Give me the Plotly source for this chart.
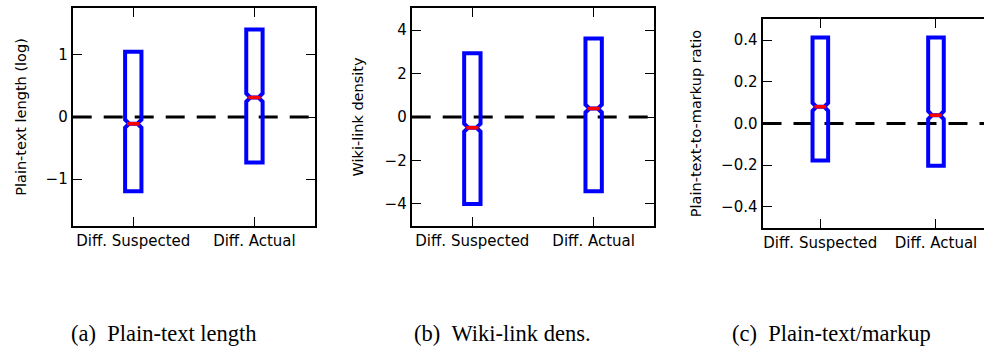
import plotly.graph_objects as go

# ---- data -------------------------------------------------------------
categories = ["Diff. Suspected", "Diff. Actual"]
positions = [1, 2]

length_q1 = [-1.195, -0.732]
length_median = [-0.107, 0.313]
length_q3 = [1.05, 1.41]
length_notch = [0.065, 0.065]

density_q1 = [-4.0, -3.42]
density_median = [-0.49, 0.39]
density_q3 = [2.93, 3.61]
density_notch = [0.18, 0.18]

ratio_q1 = [-0.177, -0.203]
ratio_median = [0.08, 0.04]
ratio_q3 = [0.413, 0.413]
ratio_notch = [0.019, 0.019]

length_ticks = [-1, 0, 1]
length_ticktext = ["\u22121", "0", "1"]
density_ticks = [-4, -2, 0, 2, 4]
density_ticktext = ["\u22124", "\u22122", "0", "2", "4"]
ratio_ticks = [-0.4, -0.2, 0.0, 0.2, 0.4]
ratio_ticktext = ["\u22120.4", "\u22120.2", "0.0", "0.2", "0.4"]

titles = ["Plain-text length (log)", "Wiki-link density", "Plain-text-to-markup ratio"]
captions = ["(a)\u00a0\u00a0Plain-text length", "(b)\u00a0\u00a0Wiki-link dens.", "(c)\u00a0\u00a0Plain-text/markup"]

# ---- style ------------------------------------------------------------
W, H = 984, 349
BOX_W = 0.135
MED_HALF = BOX_W * 0.75 / 2
TICK_FONT = dict(family="DejaVu Sans", size=15, color="black")
TITLE_FONT = dict(family="DejaVu Sans", size=14.5, color="black")

# subplot frames in pixels: (left, right, top, bottom)
frames = [
    (72.7, 315.0, 8.3, 225.7),
    (411.7, 654.3, 8.3, 225.7),
    (762.5, 993.8, 19.3, 227.7),
]
yranges = [[-1.75, 1.75], [-5, 5], [-0.5, 0.5]]
panels = [
    (length_q1, length_median, length_q3, length_notch, length_ticks, length_ticktext),
    (density_q1, density_median, density_q3, density_notch, density_ticks, density_ticktext),
    (ratio_q1, ratio_median, ratio_q3, ratio_notch, ratio_ticks, ratio_ticktext),
]
title_standoff = [16, 18, 16]

fig = go.Figure()
layout = {}

for i, ((q1, med, q3, notch, tv, tt), (l, r, t, b), yr) in enumerate(zip(panels, frames, yranges)):
    n = "" if i == 0 else str(i + 1)
    xa, ya = "x" + n, "y" + n

    fig.add_trace(go.Box(
        x=positions, q1=q1, median=med, q3=q3,
        lowerfence=q1, upperfence=q3,
        notched=True, notchspan=notch, notchwidth=0.25,
        width=BOX_W, whiskerwidth=0,
        line=dict(color="#0000ff", width=4),
        fillcolor="rgba(0,0,0,0)",
        boxpoints=False, hoverinfo="skip",
        xaxis=xa, yaxis=ya, showlegend=False,
    ))
    # red median bars
    for p, m in zip(positions, med):
        fig.add_trace(go.Scatter(
            x=[p - MED_HALF, p + MED_HALF], y=[m, m], mode="lines",
            line=dict(color="#ff0000", width=3.5),
            xaxis=xa, yaxis=ya, showlegend=False, hoverinfo="skip",
        ))
    # dashed zero reference
    fig.add_shape(type="line", xref=xa, yref=ya, x0=0.5, x1=2.5, y0=0, y1=0,
                  line=dict(color="black", width=3, dash="19px,12px"), layer="below")

    x0 = l / W
    x1 = min(r, W) / W
    xmax = 0.5 + 2.0 * (min(r, W) - l) / (r - l)
    clipped = r > W

    layout["xaxis" + n] = dict(
        domain=[x0, x1], range=[0.5, xmax], anchor=ya,
        tickvals=positions, ticktext=categories, tickfont=TICK_FONT,
        ticks="inside", ticklen=9, tickwidth=1.3, tickcolor="black",
        showline=True, linecolor="black", linewidth=2, mirror="ticks",
        showgrid=False, zeroline=False, fixedrange=True,
    )
    layout["yaxis" + n] = dict(
        domain=[1 - b / H, 1 - t / H], range=yr, anchor=xa,
        tickvals=tv, ticktext=tt, tickfont=TICK_FONT,
        ticks="inside", ticklen=9, tickwidth=1.3, tickcolor="black",
        showline=True, linecolor="black", linewidth=2,
        mirror=False if clipped else "ticks",
        showgrid=False, zeroline=False, fixedrange=True,
        title=dict(text=titles[i], font=TITLE_FONT, standoff=title_standoff[i]),
    )

cap_x = [164, 502, 831]
annotations = [
    dict(text=c, x=cx / W, y=1 - 333 / H, xref="paper", yref="paper",
         xanchor="center", yanchor="middle", showarrow=False,
         font=dict(family="Liberation Serif", size=22.5, color="black"))
    for c, cx in zip(captions, cap_x)
]

fig.update_layout(
    width=W, height=H,
    margin=dict(l=0, r=0, t=0, b=0),
    paper_bgcolor="white", plot_bgcolor="white",
    annotations=annotations,
    **layout,
)

fig.write_html("out.html")
